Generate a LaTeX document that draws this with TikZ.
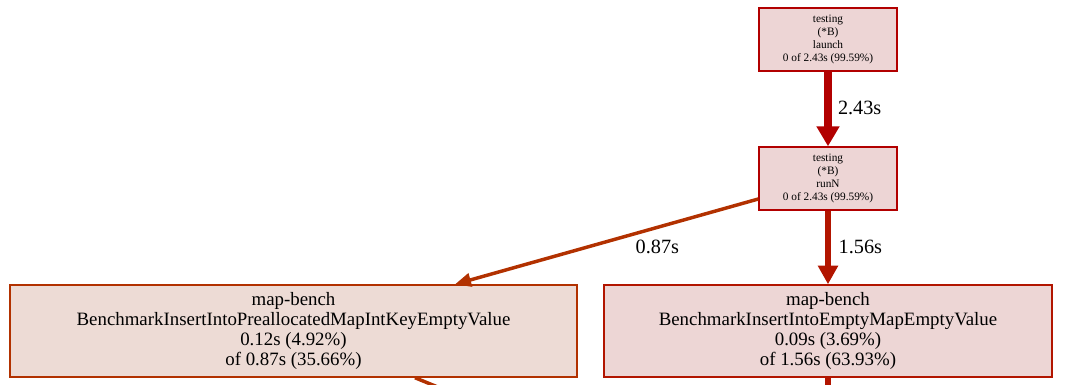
\documentclass[tikz,border=0pt]{standalone}
\usepackage{fontspec}
\setmainfont{Liberation Serif}
\usetikzlibrary{arrows.meta,calc}

\definecolor{hotline}{HTML}{B20000}
\definecolor{hotfill}{HTML}{EDD5D5}
\definecolor{warmline}{HTML}{B21500}
\definecolor{warmfill}{HTML}{EDD6D5}
\definecolor{coolline}{HTML}{B23100}
\definecolor{coolfill}{HTML}{EDDBD5}

\tikzset{every picture/.style={line width=0.75pt}}

\begin{document}
\begin{tikzpicture}[x=0.75pt,y=0.75pt,yscale=-1,
  fnbox/.style={draw=hotline,fill=hotfill,line width=1.1pt,align=center,inner sep=0pt,
    minimum width=103.5pt,minimum height=47.25pt,font=\fontsize{8.5}{9.75}\selectfont},
  leafbox/.style={draw,line width=1.1pt,align=center,inner sep=0pt,
    minimum height=69pt,font=\fontsize{14.15}{15}\selectfont},
  lbl/.style={inner sep=0pt,font=\fontsize{15.2}{18}\selectfont},
  hotedge/.style={draw=hotline,line width=6pt,-{Triangle[length=15pt,width=16.5pt]}},
  warmedge/.style={draw=warmline,line width=5pt,-{Triangle[length=14pt,width=14.5pt]}},
  cooledge/.style={draw=coolline,line width=2.6pt,-{Triangle[length=12pt,width=10pt]}}]
\useasboundingbox (0,0) rectangle (1068,385);
\clip (0,0) rectangle (1068,385);

%Function nodes
\node [fnbox] (launch) at (828,39.5) {testing\\(*B)\\launch\\0 of 2.43s (99.59\%)};
\node [fnbox] (runN) at (828,178.5) {testing\\(*B)\\runN\\0 of 2.43s (99.59\%)};
\node [leafbox,draw=coolline,fill=coolfill,minimum width=425.25pt] (prealloc) at (293.5,331)
  {map-bench\\BenchmarkInsertIntoPreallocatedMapIntKeyEmptyValue\\0.12s (4.92\%)\\of 0.87s (35.66\%)};
\node [leafbox,draw=warmline,fill=warmfill,minimum width=336pt] (emptymap) at (828,331)
  {map-bench\\BenchmarkInsertIntoEmptyMapEmptyValue\\0.09s (3.69\%)\\of 1.56s (63.93\%)};

%Loose ends below the picture
\coordinate (preallocout) at (445,390);
\coordinate (emptymapout) at (828,390);

%Edges
\draw [hotedge] (launch) -- (runN) node [lbl,midway,anchor=west,xshift=4.5pt,yshift=0.5pt] {2.43s};
\draw [warmedge] (runN) -- (emptymap) node [lbl,midway,anchor=west,xshift=5.5pt,yshift=0.5pt] {1.56s};
\draw [cooledge] ($(runN.west)+(0,20.5)$) -- ($(prealloc.north)+(161.5,0)$)
  node [lbl,midway,anchor=west,xshift=20.5pt,yshift=-4pt] {0.87s};
\draw [draw=coolline,line width=2.6pt] ($(prealloc.south)+(121.5,0)$) -- (preallocout);
\draw [draw=warmline,line width=4.5pt] (emptymap) -- (emptymapout);

\end{tikzpicture}
\end{document}
